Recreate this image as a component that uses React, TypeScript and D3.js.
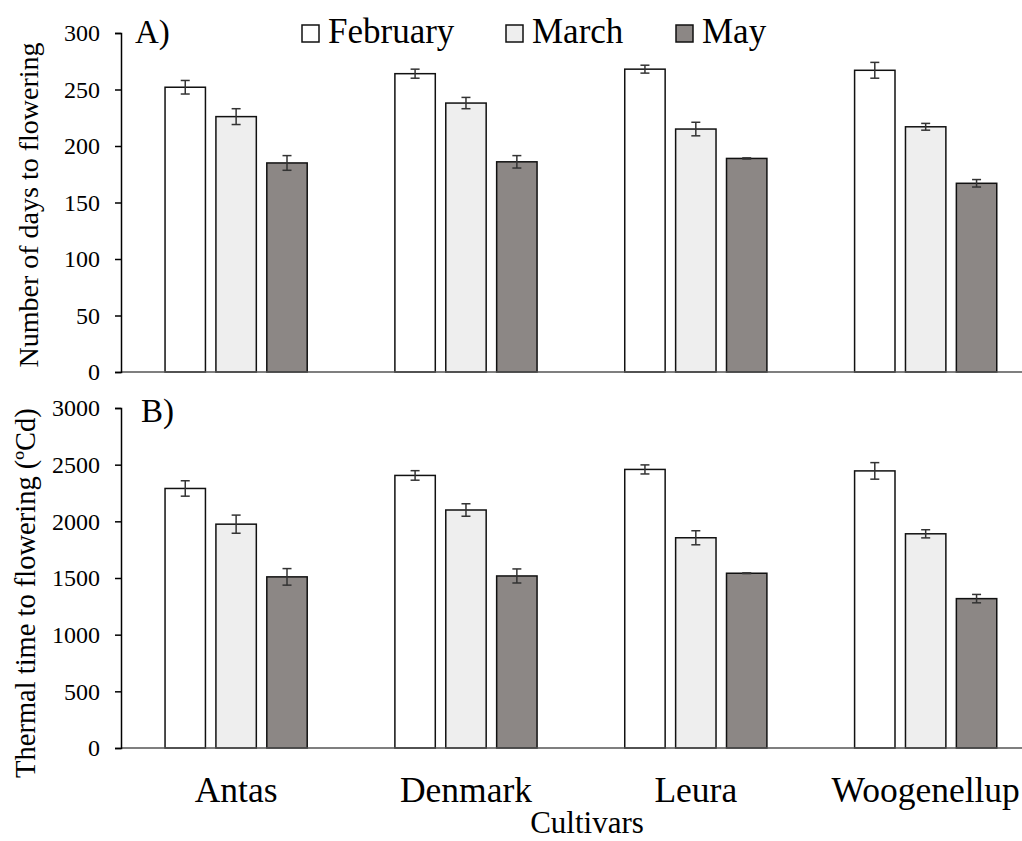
import React, { useEffect, useRef } from 'react'
import * as d3 from 'd3'

const cultivars = ['Antas', 'Denmark', 'Leura', 'Woogenellup']
const months = ['February', 'March', 'May']

// panel A: number of days to flowering
const daysFeb = [252, 264, 268, 267]
const daysMar = [226, 238, 215, 217]
const daysMay = [185, 186, 189, 167]
const daysFebErr = [6, 4, 3.5, 7]
const daysMarErr = [7, 5, 6, 3]
const daysMayErr = [6.5, 5.5, 0.5, 3.3]

// panel B: thermal time to flowering
const ttFeb = [2290, 2405, 2458, 2445]
const ttMar = [1975, 2100, 1855, 1890]
const ttMay = [1510, 1518, 1542, 1318]
const ttFebErr = [68, 42, 40, 73]
const ttMarErr = [80, 55, 62, 36]
const ttMayErr = [73, 62, 3, 37]

const daysTicks = [0, 50, 100, 150, 200, 250, 300]
const ttTicks = [0, 500, 1000, 1500, 2000, 2500, 3000]

const fills = ['#ffffff', '#eeeeee', '#8c8785']
const font = "'Times New Roman', 'Liberation Serif', 'DejaVu Serif', serif"

export default function App() {
  const ref = useRef<SVGSVGElement>(null)

  useEffect(() => {
    const svg = d3.select(ref.current)
    svg.selectAll('*').remove()

    const left = 121
    const x0 = d3.scaleBand()
      .domain(cultivars)
      .range([left, 1040.8])
      .paddingInner(0.3815)
      .paddingOuter(0.1916)
    const x1 = d3.scaleBand()
      .domain(months)
      .range([0, x0.bandwidth()])
      .paddingInner(0.206)
      .paddingOuter(0)

    const panels = [
      {
        label: 'A)', labelX: 135, labelY: 43,
        title: 'Number of days to flowering', titleSize: 28, titleX: 38, titleY: 205,
        top: 33, bottom: 372, max: 300, ticks: daysTicks,
        values: [daysFeb, daysMar, daysMay], errs: [daysFebErr, daysMarErr, daysMayErr],
      },
      {
        label: 'B)', labelX: 141, labelY: 422,
        title: 'Thermal time to flowering (ºCd)', titleSize: 28.5, titleX: 35, titleY: 593,
        top: 408, bottom: 748, max: 3000, ticks: ttTicks,
        values: [ttFeb, ttMar, ttMay], errs: [ttFebErr, ttMarErr, ttMayErr],
      },
    ]

    panels.forEach(p => {
      const y = d3.scaleLinear().domain([0, p.max]).range([p.bottom, p.top])
      const g = svg.append('g')

      // bars
      months.forEach((m, mi) => {
        g.append('g')
          .selectAll('rect')
          .data(cultivars)
          .join('rect')
          .attr('x', c => x0(c)! + x1(m)!)
          .attr('y', (c, i) => y(p.values[mi][i]))
          .attr('width', x1.bandwidth())
          .attr('height', (c, i) => p.bottom - y(p.values[mi][i]))
          .attr('fill', fills[mi])
          .attr('stroke', '#111')
          .attr('stroke-width', 1.5)

        // error bars
        const eb = g.append('g').attr('stroke', '#333').attr('stroke-width', 1.5)
        cultivars.forEach((c, i) => {
          const cx = x0(c)! + x1(m)! + x1.bandwidth() / 2
          const hi = y(p.values[mi][i] + p.errs[mi][i])
          const lo = y(p.values[mi][i] - p.errs[mi][i])
          eb.append('line').attr('x1', cx).attr('x2', cx).attr('y1', hi).attr('y2', lo)
          eb.append('line').attr('x1', cx - 4.5).attr('x2', cx + 4.5).attr('y1', hi).attr('y2', hi)
          eb.append('line').attr('x1', cx - 4.5).attr('x2', cx + 4.5).attr('y1', lo).attr('y2', lo)
        })
      })

      // x baseline
      g.append('line')
        .attr('x1', left).attr('x2', 1022)
        .attr('y1', p.bottom).attr('y2', p.bottom)
        .attr('stroke', '#555').attr('stroke-width', 1.5)

      // y axis
      const ax = g.append('g')
        .attr('transform', `translate(${left},0)`)
        .call(d3.axisLeft(y).tickValues(p.ticks).tickSize(6).tickSizeOuter(6).tickPadding(15).tickFormat(d3.format('d')))
      ax.attr('font-family', null)
      ax.select('.domain').attr('stroke', '#000').attr('stroke-width', 1.5)
      ax.selectAll('.tick line').attr('stroke', '#000').attr('stroke-width', 1.5)
      ax.selectAll('.tick text')
        .style('font-family', font)
        .style('font-size', '24px')
        .attr('fill', '#000')

      // panel label
      g.append('text')
        .attr('x', p.labelX).attr('y', p.labelY)
        .style('font-family', font).style('font-size', '33px')
        .text(p.label)

      // y title
      g.append('text')
        .attr('transform', `translate(${p.titleX},${p.titleY}) rotate(-90)`)
        .attr('text-anchor', 'middle')
        .style('font-family', font).style('font-size', p.titleSize + 'px')
        .text(p.title)
    })

    // category labels
    svg.append('g')
      .selectAll('text')
      .data(cultivars)
      .join('text')
      .attr('x', c => x0(c)! + x0.bandwidth() / 2)
      .attr('y', 802)
      .attr('text-anchor', 'middle')
      .style('font-family', font)
      .style('font-size', '35.5px')
      .text(c => c)

    svg.append('text')
      .attr('x', 587).attr('y', 833)
      .attr('text-anchor', 'middle')
      .style('font-family', font).style('font-size', '31px')
      .text('Cultivars')

    // legend
    const legendX = [302, 506, 676]
    const leg = svg.append('g')
    months.forEach((m, i) => {
      leg.append('rect')
        .attr('x', legendX[i]).attr('y', 25)
        .attr('width', 17).attr('height', 17)
        .attr('fill', fills[i])
        .attr('stroke', '#111').attr('stroke-width', 1.5)
      leg.append('text')
        .attr('x', legendX[i] + 26).attr('y', 43)
        .style('font-family', font).style('font-size', '35px')
        .text(m)
    })
  }, [])

  return (
    <svg
      ref={ref}
      width={1022}
      height={841}
      style={{ position: 'absolute', left: 0, top: 0, background: '#fff', fontFamily: font }}
    />
  )
}
